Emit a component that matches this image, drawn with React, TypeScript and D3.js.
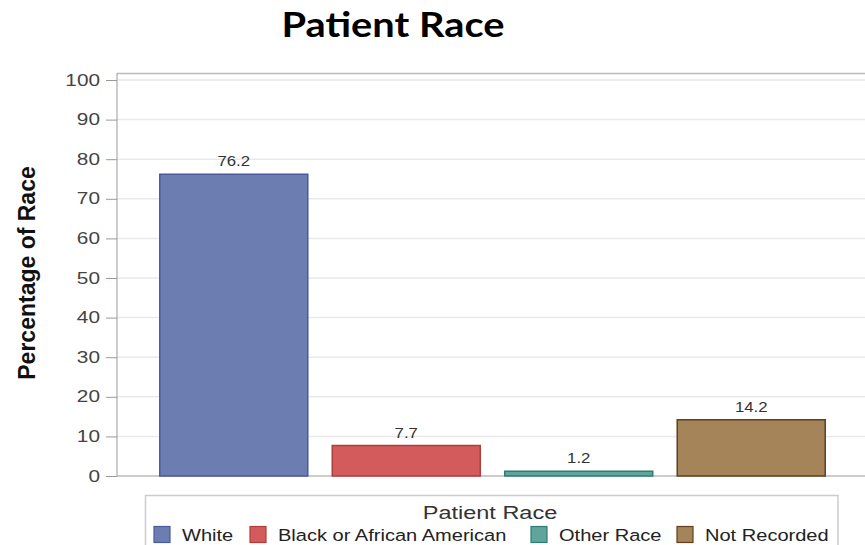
import React from "react";
import * as d3 from "d3";

const categories = ["White", "Black or African American", "Other Race", "Not Recorded"];
const values = [76.2, 7.7, 1.2, 14.2];
const yTicks = [0, 10, 20, 30, 40, 50, 60, 70, 80, 90, 100];
const fills = ["#6c7db1", "#d35b5b", "#5fa59c", "#a6845a"];
const strokes = ["#4a5a9a", "#b03c3c", "#2f7d74", "#5e4020"];

const width = 865;
const height = 545;
const margin = { top: 80, right: -3, bottom: 69, left: 117 };
const sans = "Liberation Sans, Arial, sans-serif";

// text stretched sideways like the original export
const SText = ({ x, y, sx, anchor = "start", size, fill = "#333", weight = "normal", family = sans, children }: any) => (
  <text
    transform={`translate(${x},${y}) scale(${sx},1)`}
    textAnchor={anchor}
    fontFamily={family}
    fontSize={size}
    fontWeight={weight}
    fill={fill}
  >
    {children}
  </text>
);

const App = () => {
  const yAxis = React.useRef(null);

  const xScale = d3
    .scaleBand()
    .domain(categories)
    .range([margin.left, width - margin.right])
    .paddingInner(0.142)
    .paddingOuter(0.248);
  const yScale = d3.scaleLinear().domain([0, 100]).range([height - margin.bottom, margin.top]);

  React.useEffect(() => {
    const axisLeft = d3.axisLeft(yScale).tickValues(yTicks).tickSize(11);
    // @ts-ignore
    const g = d3.select(yAxis.current).call(axisLeft);
    g.select(".domain").remove();
    g.selectAll(".tick line").attr("stroke", "#999");
    g.selectAll(".tick text")
      .attr("fill", "#444")
      .attr("font-family", sans)
      .attr("font-size", 16)
      .attr("x", -17 / 1.3)
      .attr("transform", "scale(1.3,1)");
  }, []);

  const base = yScale(0);
  const legendSwatch = [154, 250, 531, 677];

  return (
    <svg width={width} height={height} style={{ position: "absolute", left: 0, top: 0 }}>
      <rect width={width} height={height} fill="#fff" />
      <SText x={393} y={37} sx={1.17} anchor="middle" size={34} weight="bold" fill="#000" family="Lato, sans-serif">
        Patient Race
      </SText>

      {yTicks.map((t) => (
        <line key={t} x1={margin.left} x2={width} y1={yScale(t)} y2={yScale(t)} stroke="#e9e9e9" strokeWidth={1.5} />
      ))}
      <line x1={margin.left} x2={width} y1={73.5} y2={73.5} stroke="#bbb" strokeWidth={1.5} />
      <line x1={margin.left} x2={margin.left} y1={73} y2={base} stroke="#aaa" strokeWidth={1.2} />
      <line x1={margin.left} x2={width} y1={base} y2={base} stroke="#aaa" strokeWidth={1.2} />

      <g ref={yAxis} transform={`translate(${margin.left}, 0)`} />

      {values.map((v, i) => {
        const x = xScale(categories[i]) as number;
        const y = yScale(v);
        return (
          <g key={i}>
            <rect x={x} y={y} width={xScale.bandwidth()} height={base - y} fill={fills[i]} stroke={strokes[i]} strokeWidth={1.5} />
            <SText x={x + xScale.bandwidth() / 2} y={y - 8} sx={1.2} anchor="middle" size={14} fill="#333">
              {v.toFixed(1)}
            </SText>
          </g>
        );
      })}

      <text
        transform={`translate(35, ${(base + margin.top) / 2 - 5}) rotate(-90)`}
        textAnchor="middle"
        fontFamily={sans}
        fontWeight="bold"
        fontSize={23}
        fill="#111"
      >
        Percentage of Race
      </text>

      <rect x={145.5} y={495.5} width={692.5} height={60} fill="#fff" stroke="#ccc" strokeWidth={1.5} />
      <SText x={490} y={519} sx={1.27} anchor="middle" size={18.5} fill="#333">
        Patient Race
      </SText>
      {categories.map((c, i) => (
        <g key={c}>
          <rect x={legendSwatch[i]} y={526.5} width={16} height={16} fill={fills[i]} stroke={strokes[i]} strokeWidth={1.2} />
          <SText x={legendSwatch[i] + 28} y={541} sx={1.18} size={17} fill="#222">
            {c}
          </SText>
        </g>
      ))}
    </svg>
  );
};

export default App;
